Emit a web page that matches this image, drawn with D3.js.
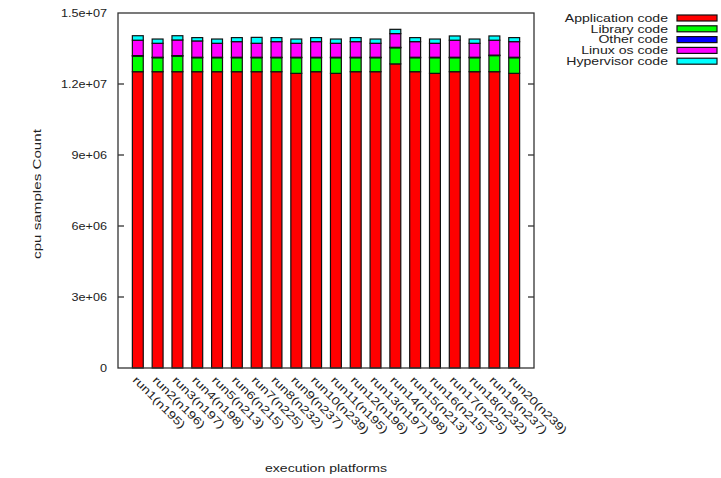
<!DOCTYPE html>
<html><head><meta charset="utf-8">
<script src="https://cdn.jsdelivr.net/npm/d3@7"></script>
<style>body{margin:0;background:#fff}svg{display:block}text{font-family:"Liberation Sans",Arial,sans-serif;fill:#222}</style>
</head><body><svg id="c" width="721" height="478"></svg>
<script>
const categories = ["run1(n195)","run2(n196)","run3(n197)","run4(n198)","run5(n213)","run6(n215)","run7(n225)","run8(n232)","run9(n237)","run10(n239)","run11(n195)","run12(n196)","run13(n197)","run14(n198)","run15(n213)","run16(n215)","run17(n225)","run18(n232)","run19(n237)","run20(n239)"];
const seriesNames = ["Application code","Library code","Other code","Linux os code","Hypervisor code"];
const seriesColors = ["#ff0000","#00ff00","#0000ff","#ff00ff","#00ffff"];
const applicationCode = [12.52e6,12.52e6,12.52e6,12.52e6,12.52e6,12.52e6,12.52e6,12.52e6,12.45e6,12.52e6,12.45e6,12.52e6,12.52e6,12.85e6,12.52e6,12.45e6,12.52e6,12.52e6,12.52e6,12.45e6];
const libraryCode = [0.66e6,0.59e6,0.66e6,0.59e6,0.59e6,0.59e6,0.59e6,0.59e6,0.66e6,0.59e6,0.66e6,0.59e6,0.59e6,0.68e6,0.59e6,0.66e6,0.59e6,0.59e6,0.68e6,0.66e6];
const otherCode = [0.02e6,0.02e6,0.02e6,0.02e6,0.02e6,0.02e6,0.02e6,0.02e6,0.02e6,0.02e6,0.02e6,0.02e6,0.02e6,0.02e6,0.02e6,0.02e6,0.02e6,0.02e6,0.02e6,0.02e6];
const linuxCode = [0.65e6,0.59e6,0.66e6,0.69e6,0.59e6,0.66e6,0.59e6,0.66e6,0.59e6,0.66e6,0.59e6,0.66e6,0.59e6,0.58e6,0.66e6,0.59e6,0.72e6,0.59e6,0.63e6,0.66e6];
const hypervisorCode = [0.19e6,0.18e6,0.18e6,0.14e6,0.18e6,0.17e6,0.25e6,0.17e6,0.18e6,0.17e6,0.18e6,0.17e6,0.18e6,0.18e6,0.17e6,0.18e6,0.18e6,0.18e6,0.18e6,0.17e6];
const yTicks = [0,3e6,6e6,9e6,12e6,15e6];
const yTickLabels = ["0","3e+06","6e+06","9e+06","1.2e+07","1.5e+07"];

const svg = d3.select("#c");
const L=118,R=534,T=13,B=368;
const SX=1.28;
const x = d3.scaleLinear().domain([-1,categories.length]).range([L,R]);
const y = d3.scaleLinear().domain([0,15e6]).range([B,T]);
const bw = (x(1)-x(0))*0.55;

const rows = categories.map((c,i)=>({cat:c,i,"Application code":applicationCode[i],"Library code":libraryCode[i],"Other code":otherCode[i],"Linux os code":linuxCode[i],"Hypervisor code":hypervisorCode[i]}));
const stack = d3.stack().keys(seriesNames)(rows);

const g = svg.append("g");
stack.forEach((s,si)=>{
  g.selectAll(null).data(s).enter().append("rect")
    .attr("x",d=>x(d.data.i)-bw/2).attr("width",bw)
    .attr("y",d=>y(d[1])).attr("height",d=>y(d[0])-y(d[1]))
    .attr("fill",seriesColors[si]).attr("stroke","#111").attr("stroke-width",1.2);
});

// frame
svg.append("rect").attr("x",L).attr("y",T).attr("width",R-L).attr("height",B-T)
  .attr("fill","none").attr("stroke","#333").attr("stroke-width",1.3);

// y axis ticks (inward, mirrored)
yTicks.forEach((t,i)=>{
  if(t>0 && t<15e6){
    svg.append("line").attr("x1",L).attr("x2",L+6).attr("y1",y(t)).attr("y2",y(t)).attr("stroke","#333").attr("stroke-width",1.3);
    svg.append("line").attr("x1",R).attr("x2",R-6).attr("y1",y(t)).attr("y2",y(t)).attr("stroke","#333").attr("stroke-width",1.3);
  }
  svg.append("text").attr("transform",`translate(${L-11},${y(t)}) scale(1.15,1)`).attr("dy","0.35em").attr("text-anchor","end")
    .attr("font-size",11).text(yTickLabels[i]);
});

// x labels
categories.forEach((c,i)=>{
  svg.append("text").attr("transform",`translate(${x(i)-3},${B+10}) rotate(45) scale(${SX},1)`)
    .attr("font-size",11).attr("dy","0.35em").text(c);
});

// axis titles
svg.append("text").attr("transform",`translate(41,194) rotate(-90) scale(1.38,1)`).attr("text-anchor","middle")
  .attr("font-size",11).text("cpu samples Count");
svg.append("text").attr("transform",`translate(326,472) scale(${SX},1)`).attr("text-anchor","middle").attr("font-size",11).text("execution platforms");

// legend
seriesNames.forEach((n,i)=>{
  const yy = 18 + i*10.8;
  svg.append("text").attr("transform",`translate(668,${yy}) scale(${SX},1)`).attr("dy","0.35em").attr("text-anchor","end").attr("font-size",11).text(n);
  svg.append("rect").attr("x",677).attr("y",yy-3).attr("width",40).attr("height",6)
    .attr("fill",seriesColors[i]).attr("stroke","#111").attr("stroke-width",1.2);
});
</script></body></html>
